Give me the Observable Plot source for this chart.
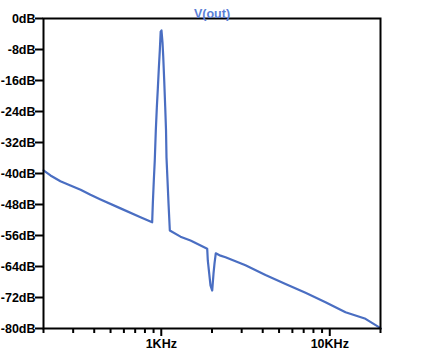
<!DOCTYPE html>
<html>
<head>
<meta charset="utf-8">
<script src="https://cdn.jsdelivr.net/npm/d3@7"></script>
<script src="https://cdn.jsdelivr.net/npm/@observablehq/plot@0.6"></script>
<style>
  html, body { margin: 0; padding: 0; background: #fff; }
</style>
</head>
<body>
<div id="chart"></div>
<script>
// Frequencies (Hz) and magnitudes (dB) of V(out)
const freqs = [200, 220, 252, 289, 332, 380, 436, 573, 753, 883,
  891, 903, 915, 928, 941, 954, 967, 980, 992, 1003,
  1017, 1027, 1041, 1055, 1067, 1074, 1089, 1104, 1124,
  1300, 1491, 1873,
  1889, 1925, 1959, 2006, 2042, 2070, 2106, 2246, 2406,
  3160, 4154, 5462, 7178, 9434, 12400, 16294, 20000];
const magsDB = [-39.2, -40.5, -42.0, -43.1, -44.2, -45.5, -46.7, -49.0, -51.3, -52.6,
  -47.7, -41.8, -36.6, -28.9, -23.0, -18.1, -12.9, -8.3, -3.4, -3.1,
  -6.2, -9.8, -16.0, -22.7, -28.9, -35.9, -41.8, -47.7, -54.7,
  -56.3, -57.3, -59.4,
  -62.5, -65.8, -68.9, -70.2, -65.8, -63.2, -60.6, -61.2, -61.6,
  -63.7, -66.2, -68.5, -70.8, -73.2, -75.8, -77.5, -79.9];

const yTicks = [0, -8, -16, -24, -32, -40, -48, -56, -64, -72, -80];
const majorTicks = [1000, 10000];
const majorLabels = ["1KHz", "10KHz"];
const minorTicks = [200, 300, 400, 500, 600, 700, 800, 900,
  2000, 3000, 4000, 5000, 6000, 7000, 8000, 9000, 20000];
const title = "V(out)";

const data = freqs.map((f, i) => ({f, v: magsDB[i]}));

const traceColor = "#4a6ec2";
const titleColor = "#5a7fd6";
const fs = 12.5;

const chart = Plot.plot({
  width: 431,
  height: 354,
  marginLeft: 43,
  marginTop: 18,
  marginRight: 51,
  marginBottom: 26,
  style: {
    fontFamily: "'Liberation Sans', Arial, sans-serif",
    fontWeight: "bold",
    fontSize: fs + "px",
    color: "black",
    background: "white"
  },
  x: {type: "log", domain: [200, 20000], label: null},
  y: {domain: [-80, 0], label: null},
  marks: [
    Plot.line(data, {x: "f", y: "v", stroke: traceColor, strokeWidth: 2.2}),
    Plot.frame({stroke: "black", strokeWidth: 2}),
    Plot.axisY(yTicks, {
      tickSize: 8, tickPadding: 0, strokeWidth: 2, stroke: "black",
      tickFormat: d => `${d}dB`, fontSize: fs, fontWeight: "bold", label: null
    }),
    Plot.axisX(majorTicks, {
      tickSize: 8, tickPadding: 3, strokeWidth: 2, stroke: "black",
      tickFormat: d => majorLabels[majorTicks.indexOf(d)], fontSize: fs, fontWeight: "bold", label: null
    }),
    Plot.axisX(minorTicks, {
      tickSize: 5, strokeWidth: 2, stroke: "black", tickFormat: () => "", label: null
    }),
    Plot.text([title], {
      frameAnchor: "top", dy: -9.5, fill: titleColor, fontSize: fs, fontWeight: "bold"
    })
  ]
});

document.getElementById("chart").appendChild(chart);
</script>
</body>
</html>
